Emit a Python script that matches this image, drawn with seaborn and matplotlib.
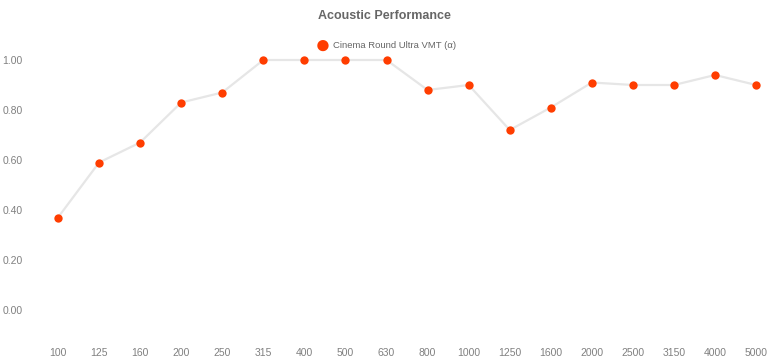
import pandas as pd
import matplotlib.pyplot as plt
import seaborn as sns

# Dados
frequencias = ["100", "125", "160", "200", "250", "315", "400", "500", "630",
               "800", "1000", "1250", "1600", "2000", "2500", "3150", "4000", "5000"]
alpha = [0.37, 0.59, 0.67, 0.83, 0.87, 1.00, 1.00, 1.00, 1.00,
         0.88, 0.90, 0.72, 0.81, 0.91, 0.90, 0.90, 0.94, 0.90]
serie = "Cinema Round Ultra VMT (α)"
yticks = [0, 0.2, 0.4, 0.6, 0.8, 1.0]

df = pd.DataFrame({"pos": range(len(frequencias)), "freq": frequencias, "alpha": alpha})

sns.set_style("white")
plt.rcParams['font.family'] = ['Liberation Sans', 'DejaVu Sans']

fig = plt.figure(figsize=(7.68, 3.62), dpi=100)
ax = fig.add_axes([38 / 768, 1 - 335 / 362, (766 - 38) / 768, 300 / 362])

# Linha + pontos
sns.lineplot(data=df, x="pos", y="alpha", ax=ax, color="#e6e6e6", linewidth=1.6, zorder=1)
sns.scatterplot(data=df, x="pos", y="alpha", ax=ax, color="#ff3d00", s=36,
                edgecolor="#ff3d00", linewidth=0, zorder=2)

ax.set_xlim(-0.487, 17.24)
ax.set_ylim(-0.1, 1.1)
ax.set_xticks(df["pos"])
ax.set_xticklabels(frequencias)
ax.set_yticks(yticks)
ax.set_yticklabels([f"{v:.2f}" for v in yticks])
ax.tick_params(axis="both", labelsize=7.5, colors="#808080", length=0)
ax.tick_params(axis="y", pad=11)
ax.tick_params(axis="x", pad=9)
ax.set_xlabel("")
ax.set_ylabel("")
for s in ax.spines.values():
    s.set_visible(False)

# Título e legenda
fig.text(0.5, 1 - 16 / 362, "Acoustic Performance", ha="center", va="center",
         fontsize=9, fontweight="bold", color="#666666")
fig.text(323 / 768, 1 - 46 / 362, "●", ha="center", va="center", fontsize=19, color="#ff3d00")
fig.text(333 / 768, 1 - 46 / 362, serie, ha="left", va="center", fontsize=6.8, color="#666666")

plt.savefig("out.png", dpi=100)
